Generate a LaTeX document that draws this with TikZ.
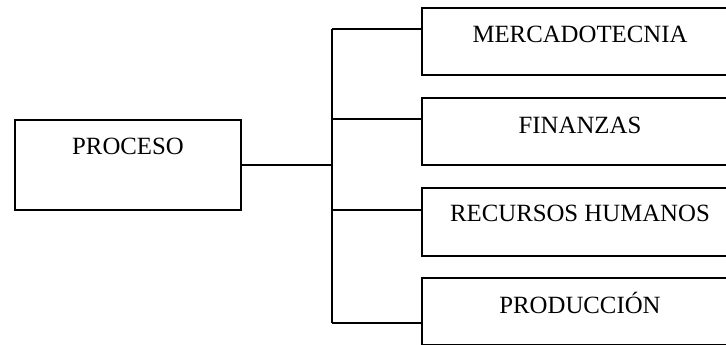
\documentclass[tikz,border=0pt]{standalone}
\usepackage{fontspec}
\setmainfont{Liberation Serif}
\begin{document}
\begin{tikzpicture}[x=1pt,y=-1pt,
  box/.style={draw,line width=2pt,inner sep=0pt,anchor=north west,
    minimum width=316pt,text height=34.7pt,text depth=32.3pt,
    font=\fontsize{24.8}{28}\selectfont},
  conn/.style={line width=2pt}]
\useasboundingbox (0,0) rectangle (726,345);
\clip (0,0) rectangle (726,345);
\node[box,minimum width=226pt,text height=34pt,text depth=56pt] (p) at (14,119) {PROCESO};
\node[box] (m) at (421,7) {MERCADOTECNIA};
\node[box,text height=35pt,text depth=32pt] (f) at (421,97) {FINANZAS};
\node[box,text height=33pt,text depth=35pt] (r) at (421,187) {RECURSOS HUMANOS};
\node[box,text height=35.4pt,text depth=31.6pt] (d) at (421,277) {PRODUCCIÓN};
\coordinate (j1) at (332,29);
\coordinate (j2) at (332,119);
\coordinate (j3) at (332,210);
\coordinate (j4) at (332,323);
\draw[conn] (p.east) -- (p.east -| j1);
\draw[conn] (j1) -- (j4);
\draw[conn] (j1) -- (j1 -| m.west);
\draw[conn] (j2) -- (j2 -| f.west);
\draw[conn] (j3) -- (j3 -| r.west);
\draw[conn] (j4) -- (j4 -| d.west);
\end{tikzpicture}
\end{document}
